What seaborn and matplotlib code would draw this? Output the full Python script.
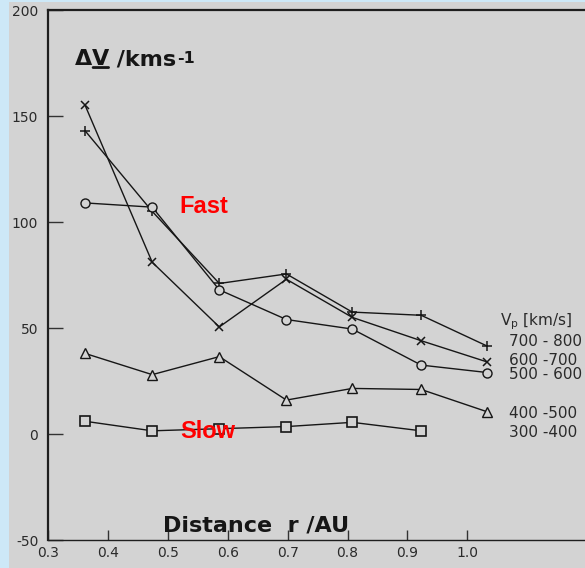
import matplotlib
matplotlib.use("Agg")
import matplotlib.pyplot as plt
import pandas as pd
import seaborn as sns
from matplotlib.patches import Rectangle

# Radial distance of each bin centre (AU) and velocity fluctuation amplitude (km/s)
distance_au = [0.362, 0.474, 0.586, 0.698, 0.808, 0.923, 1.033]
dv_700_800 = [143, 105, 71, 75.5, 57.5, 56, 41.5]
dv_600_700 = [155, 81, 50.5, 73, 55, 44, 34]
dv_500_600 = [109, 107, 68, 54, 49.5, 32.5, 29]
dv_400_500 = [38, 28, 36.5, 16, 21.5, 21, 10.5]
dv_300_400 = [6, 1.5, 2.5, 3.5, 5.5, 1.5]
speed_bins = ["700 - 800", "600 -700", "500 - 600", "400 -500", "300 -400"]

x_ticks = [0.3, 0.4, 0.5, 0.6, 0.7, 0.8, 0.9, 1.0]
x_tick_labels = ["0.3", "0.4", "0.5", "0.6", "0.7", "0.8", "0.9", "1.0"]
y_ticks = [-50, 0, 50, 100, 150, 200]
y_tick_labels = ["-50", "0", "50", "100", "150", "200"]

series = [dv_700_800, dv_600_700, dv_500_600, dv_400_500, dv_300_400]
rows = []
for name, vals in zip(speed_bins, series):
    for r, v in zip(distance_au, vals):
        rows.append({"r": r, "dv": v, "bin": name})
df = pd.DataFrame(rows)

BG = "#d3d3d3"
INK = "#161616"

sns.set_style("white")
plt.rcParams["font.family"] = ["DejaVu Sans"]
plt.rcParams["mathtext.fontset"] = "dejavusans"

fig = plt.figure(figsize=(5.85, 5.68), dpi=100, facecolor=BG)
fig.patches.append(Rectangle((0, 0), 9 / 585, 1, transform=fig.transFigure,
                             facecolor="#cde8f7", edgecolor="none", zorder=-5))
fig.patches.append(Rectangle((0, 1 - 2 / 568), 1, 2 / 568, transform=fig.transFigure,
                             facecolor="#cde8f7", edgecolor="none", zorder=-5))

ax = fig.add_axes([48 / 585, 28 / 568, 537 / 585, 530 / 568])
ax.set_facecolor(BG)

marker_style = {
    "700 - 800": dict(marker="+", markersize=7.5, markeredgewidth=1.1),
    "600 -700": dict(marker="x", markersize=5.5, markeredgewidth=1.1),
    "500 - 600": dict(marker="o", markersize=6.5, markeredgewidth=1.0),
    "400 -500": dict(marker="^", markersize=7.5, markeredgewidth=1.0),
    "300 -400": dict(marker="s", markersize=6.5, markeredgewidth=1.2),
}

for name in speed_bins:
    sub = df[df["bin"] == name]
    sns.lineplot(data=sub, x="r", y="dv", ax=ax, color=INK, lw=1.0,
                 markerfacecolor=BG, markeredgecolor=INK, legend=False,
                 estimator=None, sort=True, **marker_style[name])

ax.set_xlim(0.3, 0.3 + 537 / 599)
ax.set_ylim(-50, 200)
ax.set_xticks(x_ticks)
ax.set_xticklabels(x_tick_labels)
ax.set_yticks(y_ticks)
ax.set_yticklabels(y_tick_labels)
ax.set_xlabel("")
ax.set_ylabel("")
ax.tick_params(axis="x", direction="in", length=7, width=1.0, pad=4,
               labelsize=10, labelcolor="#2a2a2a", color="#333333")
ax.tick_params(axis="y", direction="in", length=11, width=1.0, pad=7,
               labelsize=10, labelcolor="#2a2a2a", color="#333333")
ax.xaxis.set_ticks_position("bottom")
ax.yaxis.set_ticks_position("left")

for side in ["left", "top", "bottom"]:
    ax.spines[side].set_visible(True)
    ax.spines[side].set_color("#1e1e1e")
ax.spines["left"].set_linewidth(1.6)
ax.spines["top"].set_linewidth(1.6)
ax.spines["bottom"].set_linewidth(1.0)
ax.spines["right"].set_visible(False)

# Axis titles drawn inside the frame
t1 = ax.text(0.345, 174, "\u0394", fontsize=16, fontweight="bold", color=INK,
             va="baseline", ha="left")
t2 = ax.annotate("V", xy=(1, 0), xycoords=t1, fontsize=16, fontweight="bold",
                 color=INK, va="bottom", ha="left")
t3 = ax.annotate(" /kms", xy=(1, 0), xycoords=t2, fontsize=16, fontweight="bold",
                 color=INK, va="bottom", ha="left")
ax.annotate("-1", xy=(1, 1), xycoords=t3, xytext=(0.5, -1), textcoords="offset points",
            fontsize=11.5, fontweight="bold", color=INK, va="top", ha="left")
ax.annotate("", xy=(0.05, 0.08), xycoords=t2, xytext=(0.95, 0.08), textcoords=t2,
            arrowprops=dict(arrowstyle="-", lw=2.0, color=INK, shrinkA=0, shrinkB=0))

ax.text(0.492, -45.8, "Distance  r /AU", fontsize=16, fontweight="bold",
        color=INK, va="baseline", ha="left")

ax.text(0.52, 107.5, "Fast", fontsize=17, fontweight="bold", color="#ff0000",
        family=["Liberation Sans"], va="center", ha="left")
ax.text(0.52, 1.4, "Slow", fontsize=17, fontweight="bold", color="#ff0000",
        family=["Liberation Sans"], va="center", ha="left", zorder=5)

# Speed-bin annotations at the line ends
ax.text(1.055, 52.8, "V$_\\mathrm{p}$ [km/s]", fontsize=11, color="#2a2a2a",
        va="center", ha="left", clip_on=False)
label_y = [43.4, 34.9, 28.0, 9.9, 0.5]
for name, yv in zip(speed_bins, label_y):
    ax.text(1.07, yv, name, fontsize=11, color="#2a2a2a", va="center",
            ha="left", clip_on=False)

fig.savefig("out.png", dpi=100, facecolor=BG)
